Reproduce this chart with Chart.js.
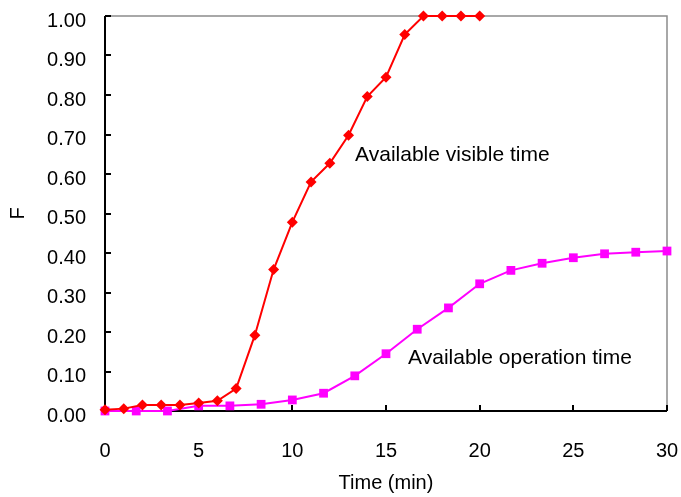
<!DOCTYPE html>
<html>
<head>
<meta charset="utf-8">
<script src="https://cdn.jsdelivr.net/npm/chart.js@4"></script>
<style>
  html, body { margin: 0; padding: 0; background: #fff; }
</style>
</head>
<body>
<canvas id="myChart" width="681" height="497"></canvas>
<script>
// chart data
const visibleTime = [0, 1, 2, 3, 4, 5, 6, 7, 8, 9, 10, 11, 12, 13, 14, 15, 16, 17, 18, 19, 20];
const visibleF = [0.003, 0.006, 0.015, 0.015, 0.015, 0.02, 0.026, 0.057, 0.192, 0.358, 0.478,
                  0.58, 0.627, 0.698, 0.796, 0.845, 0.953, 1.0, 1.0, 1.0, 1.0];
const operationTime = [0, 1.667, 3.333, 5, 6.667, 8.333, 10, 11.667, 13.333, 15, 16.667,
                       18.333, 20, 21.667, 23.333, 25, 26.667, 28.333, 30];
const operationF = [0, 0, 0, 0.013, 0.013, 0.017, 0.028, 0.045, 0.089, 0.145, 0.207,
                    0.261, 0.322, 0.356, 0.374, 0.388, 0.398, 0.402, 0.405];
const xTicks = [0, 5, 10, 15, 20, 25, 30];
const yTicks = [0, 0.1, 0.2, 0.3, 0.4, 0.5, 0.6, 0.7, 0.8, 0.9, 1.0];
const seriesNames = ['Available visible time', 'Available operation time'];

const FONT = '"Liberation Sans", Arial, sans-serif';

function toPoints(xs, ys) {
    return xs.map((x, i) => ({ x: x, y: ys[i] }));
}

// draws the box round the plot, the inward ticks and the two text labels
const framePlugin = {
    id: 'frame',
    beforeDatasetsDraw(chart) {
        const { ctx, chartArea: a, scales } = chart;
        ctx.save();
        // top and right border, grey
        ctx.strokeStyle = '#8c8c8c';
        ctx.lineWidth = 1.5;
        ctx.beginPath();
        ctx.moveTo(a.left, a.top);
        ctx.lineTo(a.right, a.top);
        ctx.lineTo(a.right, a.bottom);
        ctx.stroke();
        // left and bottom axis, black
        ctx.strokeStyle = '#000';
        ctx.lineWidth = 2;
        ctx.beginPath();
        ctx.moveTo(a.left, a.top);
        ctx.lineTo(a.left, a.bottom);
        ctx.lineTo(a.right, a.bottom);
        ctx.stroke();
        // inward ticks
        ctx.beginPath();
        yTicks.forEach(v => {
            const y = Math.round(scales.y.getPixelForValue(v));
            ctx.moveTo(a.left, y);
            ctx.lineTo(a.left + 6, y);
        });
        xTicks.forEach(v => {
            const x = Math.round(scales.x.getPixelForValue(v));
            ctx.moveTo(x, a.bottom);
            ctx.lineTo(x, a.bottom - 6);
        });
        ctx.stroke();
        ctx.restore();
    },
    afterDatasetsDraw(chart, args, opts) {
        const { ctx, scales } = chart;
        ctx.save();
        ctx.fillStyle = '#000';
        ctx.font = '21px ' + FONT;
        ctx.textBaseline = 'middle';
        ctx.textAlign = 'left';
        opts.labels.forEach(l => {
            ctx.fillText(l.text, scales.x.getPixelForValue(l.x), scales.y.getPixelForValue(l.y));
        });
        ctx.restore();
    }
};

function createChart() {
    const ctx = document.getElementById('myChart').getContext('2d');
    new Chart(ctx, {
        type: 'line',
        data: {
            datasets: [{
                label: seriesNames[0],
                data: toPoints(visibleTime, visibleF),
                borderColor: '#ff0000',
                backgroundColor: '#ff0000',
                borderWidth: 2,
                pointStyle: 'rectRot',
                pointRadius: 5.5,
                pointBorderWidth: 0,
                tension: 0,
                clip: false
            }, {
                label: seriesNames[1],
                data: toPoints(operationTime, operationF),
                borderColor: '#ff00ff',
                backgroundColor: '#ff00ff',
                borderWidth: 2,
                pointStyle: 'rect',
                pointRadius: 6.2,
                pointBorderWidth: 0,
                tension: 0,
                clip: false
            }]
        },
        options: {
            responsive: false,
            animation: false,
            devicePixelRatio: 1,
            layout: { padding: { top: 16, right: 14, left: 0, bottom: 0 } },
            plugins: {
                legend: { display: false },
                tooltip: { enabled: false },
                frame: {
                    labels: [
                        { text: seriesNames[0], x: 13.35, y: 0.648 },
                        { text: seriesNames[1], x: 16.18, y: 0.134 }
                    ]
                }
            },
            scales: {
                x: {
                    type: 'linear',
                    min: 0,
                    max: 30,
                    afterBuildTicks: s => { s.ticks = xTicks.map(v => ({ value: v })); },
                    afterFit: s => { s.height = 86; s.paddingLeft = 0; s.paddingRight = 0; },
                    grid: { display: false, drawTicks: false },
                    border: { display: false },
                    ticks: {
                        color: '#000',
                        padding: 28,
                        maxRotation: 0,
                        font: { family: FONT, size: 20 }
                    },
                    title: {
                        display: true,
                        text: 'Time (min)',
                        color: '#000',
                        padding: { top: 0, bottom: 2 },
                        font: { family: FONT, size: 20 }
                    }
                },
                y: {
                    type: 'linear',
                    min: 0,
                    max: 1,
                    afterBuildTicks: s => { s.ticks = yTicks.map(v => ({ value: v })); },
                    afterFit: s => { s.width = 105; s.paddingTop = 0; s.paddingBottom = 0; },
                    grid: { display: false, drawTicks: false },
                    border: { display: false },
                    ticks: {
                        color: '#000',
                        padding: 19,
                        labelOffset: 5,
                        font: { family: FONT, size: 20 },
                        callback: v => v.toFixed(2)
                    },
                    title: {
                        display: true,
                        text: 'F',
                        color: '#000',
                        padding: { top: 6, bottom: 0 },
                        font: { family: FONT, size: 20 }
                    }
                }
            }
        },
        plugins: [framePlugin]
    });
}

createChart();
</script>
</body>
</html>
